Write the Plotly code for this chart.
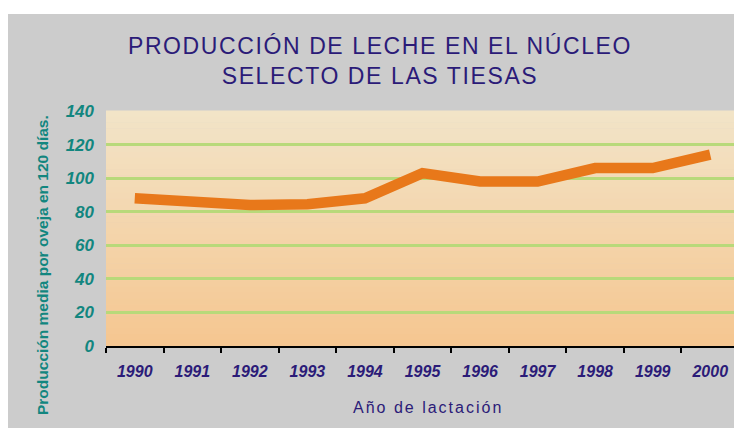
import plotly.graph_objects as go

years = ["1990", "1991", "1992", "1993", "1994", "1995", "1996", "1997", "1998", "1999", "2000"]
produccion = [88, 86.5, 84, 84.5, 88, 103, 98, 98, 106, 106, 114]
y_ticks = [0, 20, 40, 60, 80, 100, 120, 140]

W, H = 742, 428
OFF = 8  # page body margin
# plot area in screen pixels: x 106..739, y 111..346
L = 106 - OFF
T = 111 - OFF
R = W - (739 - OFF)
B = H - (346 - OFF)
pw, ph = W - L - R, H - T - B

def px_x(p):  # screen px -> paper
    return (p - OFF - L) / pw

def px_y(p):
    return (H - B - (p - OFF)) / ph

shapes = []
shapes.append(dict(type="rect", xref="paper", yref="paper", x0=px_x(8), x1=px_x(780),
                   y0=px_y(460), y1=px_y(14), fillcolor="#CCCCCC", line_width=0, layer="below"))
top = (242, 228, 200)
bot = (245, 198, 144)
n = 40
for i in range(n):
    t = (i + 0.5) / n
    c = tuple(round(top[k] + (bot[k] - top[k]) * t) for k in range(3))
    shapes.append(dict(type="rect", xref="paper", yref="paper", x0=0, x1=1,
                       y0=1 - (i + 1) / n, y1=1 - i / n + 0.002,
                       fillcolor="rgb(%d,%d,%d)" % c, line_width=0, layer="below"))

FONT = "Liberation Sans, Arial"
title_text = ('<span style="letter-spacing:1.6px">PRODUCCIÓN DE LECHE EN EL NÚCLEO</span><br>'
              '<span style="letter-spacing:1.6px">SELECTO DE LAS TIESAS</span>')

fig = go.Figure()
fig.add_trace(go.Scatter(x=years, y=produccion, mode="lines",
                         line=dict(color="#E8781A", width=10.5), hoverinfo="skip"))

annotations = [
    dict(text="Producción media por oveja en 120 días.", textangle=-90,
         xref="paper", yref="paper", x=px_x(42), y=px_y(265), xanchor="center", yanchor="middle",
         showarrow=False, font=dict(family=FONT, size=15.5, color="#12867F", weight="bold")),
    dict(text='<span style="letter-spacing:2px">Año de lactación</span>',
         xref="paper", yref="paper", x=px_x(428), y=px_y(407), xanchor="center", yanchor="middle",
         showarrow=False, font=dict(family=FONT, size=16, color="#2B1B78")),
]

fig.update_layout(
    width=W, height=H,
    margin=dict(l=L, r=R, t=T, b=B, autoexpand=False),
    paper_bgcolor="white", plot_bgcolor="rgba(0,0,0,0)",
    showlegend=False,
    shapes=shapes,
    annotations=annotations,
    title=dict(text=title_text, x=(380 - OFF) / W, xanchor="center", y=1 - (54 - OFF) / H, yanchor="middle",
               font=dict(family=FONT, size=23, color="#2B1B78")),
    font=dict(family=FONT),
)
fig.update_xaxes(
    type="category", tickson="boundaries", ticks="outside", ticklen=5, tickwidth=1.5,
    tickcolor="black", showline=True, linecolor="black", linewidth=2,
    showgrid=False, ticklabelstandoff=10, automargin=False,
    tickfont=dict(family=FONT, size=16, color="#2B1B78", weight="bold", style="italic"),
    range=[-0.5, 10.5],
)
fig.update_yaxes(
    range=[0, 140], tickvals=y_ticks, showgrid=True, gridcolor="#B8D97A", gridwidth=3,
    zeroline=False, showline=False, ticks="", ticklabelstandoff=11, automargin=False,
    tickfont=dict(family=FONT, size=17, color="#12867F", weight="bold", style="italic"),
)
fig.write_html("out.html")
